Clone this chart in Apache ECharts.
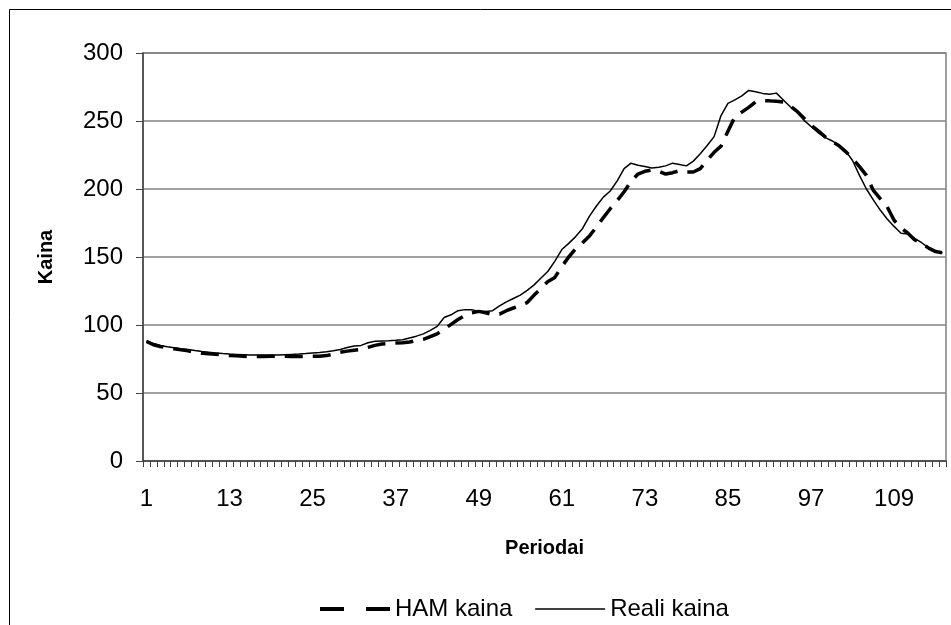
<!DOCTYPE html>
<html>
<head>
<meta charset="utf-8">
<script src="https://cdn.jsdelivr.net/npm/echarts@6/dist/echarts.min.js"></script>
<style>
  html, body { margin: 0; padding: 0; background: #fff; }
  #chart { width: 951px; height: 625px; }
</style>
</head>
<body>
<div id="chart"></div>
<script>
// periods 1..116
const periods = Array.from({ length: 116 }, (_, i) => String(i + 1));

const hamKaina = [
  88, 85.5, 84.2, 83.2, 82.5, 81.7, 81, 80, 79.3, 78.8,
  78.5, 78, 77.6, 77.3, 77, 76.8, 76.8, 76.8, 77, 77,
  77, 76.8, 76.8, 77, 77, 77, 77.5, 78.5, 80, 80.8,
  81.5, 82, 83.5, 85, 86, 86.5, 86.8, 87, 87.5, 88.5,
  89.5, 91.5, 93.5, 97, 100.5, 104, 107, 109, 110, 109,
  107.5, 108, 110.5, 112.5, 114.5, 116.5, 122, 127, 132, 135,
  143, 150, 156, 160.5, 165.5, 172, 179, 185.5, 191.5, 198,
  205.5, 211, 213, 214, 213, 211, 212, 213.5, 212.5, 212.5,
  215, 221, 227, 231.5, 242.5, 253, 256.5, 260, 264, 265,
  264.8, 264.5, 264, 261, 257, 252, 247, 243, 238.5, 235,
  232, 227.5, 222.5, 216.5, 210, 199, 193, 187, 177, 171.5,
  167.5, 162.5, 160, 156.5, 154, 153
];

const realiKaina = [
  88, 86.5, 85, 84, 83.3, 82.6, 82, 81.2, 80.5, 80,
  79.5, 79, 78.6, 78.4, 78.2, 78, 78, 78, 78, 78,
  78.2, 78.4, 78.6, 79, 79.5, 79.8, 80.3, 81, 82, 83.5,
  84.5, 85, 87, 88, 88.3, 88.5, 88.8, 89.2, 90.5, 91.8,
  93.5, 96, 99, 105.5, 107.5, 110.5, 111.3, 111.3, 110, 110,
  110.5, 114, 117, 119.5, 122, 125.5, 129.5, 134.5, 139.5, 147,
  155.5, 160, 165, 171, 180, 187.5, 194, 198.5, 206, 215,
  219, 217.5, 216.5, 215.5, 216, 217, 219, 218, 217, 220.5,
  226, 232, 238.5, 254, 263, 265.5, 268.5, 272.5, 271.5, 270.3,
  269.7, 270.5, 265.5, 260.5, 256.5, 250.5, 246, 241.5, 238, 235.5,
  232.5, 228, 221, 210, 200, 192, 184.5, 178, 172.5, 167.5,
  167, 163.5, 160.5, 156.5, 154.5, 153
];

const chart = echarts.init(document.getElementById('chart'));
const font = 'Arial, "Liberation Sans", sans-serif';

chart.setOption({
  animation: false,
  backgroundColor: '#fff',
  textStyle: { fontFamily: font, color: '#000' },
  graphic: [
    {
      type: 'rect',
      shape: { x: 9.5, y: 9.5, width: 1200, height: 1200 },
      style: { fill: null, stroke: '#000', lineWidth: 1 },
      silent: true
    }
  ],
  grid: {
    left: 143, right: 5, top: 53, bottom: 164,
    show: true, borderColor: '#808080', borderWidth: 1.5
  },
  legend: {
    top: 592,
    left: 313,
    itemWidth: 70,
    itemHeight: 14,
    itemGap: 22,
    itemStyle: { opacity: 0 },
    textStyle: { fontSize: 24, fontFamily: font, color: '#000' },
    data: [
      { name: 'HAM kaina', lineStyle: { width: 4, type: [24, 22] } },
      { name: 'Reali kaina', lineStyle: { width: 1.5 } }
    ]
  },
  xAxis: {
    type: 'category',
    data: periods,
    boundaryGap: true,
    name: 'Periodai',
    nameLocation: 'middle',
    nameGap: 77,
    nameTextStyle: { fontSize: 20, fontWeight: 'bold', color: '#000' },
    axisLine: { lineStyle: { color: '#404040', width: 1.5 } },
    axisTick: { show: true, interval: 0, length: 6, lineStyle: { color: '#404040', width: 1 } },
    axisLabel: { interval: 11, margin: 26, fontSize: 24, color: '#000' }
  },
  yAxis: {
    type: 'value',
    min: 0, max: 300, interval: 50,
    name: 'Kaina',
    nameLocation: 'middle',
    nameGap: 87,
    nameTextStyle: { fontSize: 20, fontWeight: 'bold', color: '#000' },
    axisLine: { show: true, lineStyle: { color: '#404040', width: 1.5 } },
    axisTick: { show: true, length: 7, lineStyle: { color: '#404040', width: 1 } },
    axisLabel: { margin: 20, fontSize: 24, color: '#000' },
    splitLine: { lineStyle: { color: '#808080', width: 1.5 } }
  },
  series: [
    {
      name: 'HAM kaina',
      type: 'line',
      data: hamKaina,
      symbol: 'none',
      lineStyle: { color: '#000', width: 3.5, type: [18, 10] },
      itemStyle: { color: '#000' },
      z: 3
    },
    {
      name: 'Reali kaina',
      type: 'line',
      data: realiKaina,
      symbol: 'none',
      lineStyle: { color: '#000', width: 1.5 },
      itemStyle: { color: '#000' },
      z: 4
    }
  ]
});
</script>
</body>
</html>
